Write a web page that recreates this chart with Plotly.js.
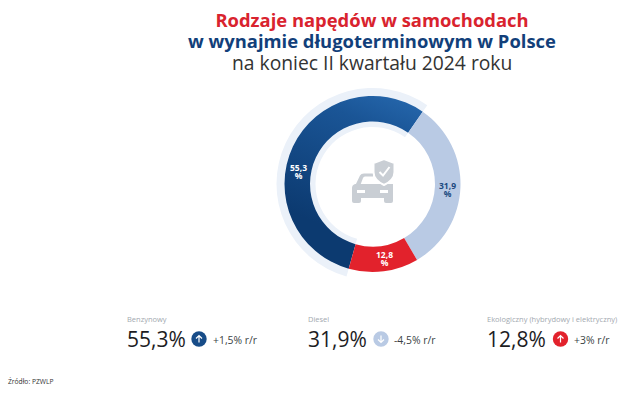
<!DOCTYPE html>
<html>
<head>
<meta charset="utf-8">
<script src="https://cdn.plot.ly/plotly-3.0.1.min.js"></script>
<style>html,body{margin:0;padding:0;background:#fff}#c{width:640px;height:401px}</style>
</head>
<body>
<div id="c"></div>
<script>
const categories = ['Benzynowy', 'Diesel', 'Ekologiczny (hybrydowy i elektryczny)'];
const values = [55.3, 31.9, 12.8];
const changes = ['+1,5% r/r', '-4,5% r/r', '+3% r/r'];
const sliceColors = ['#1a5596', '#b9cae4', '#e2222c'];
const iconColors = ['#174c88', '#b9cae4', '#e2222c'];
const labelColors = ['#ffffff', '#1c4a80', '#ffffff'];
const titleLines = ['Rodzaje napędów w samochodach', 'w wynajmie długoterminowym w Polsce', 'na koniec II kwartału 2024 roku'];
const source = 'Źródło: PZWLP';

const W = 640, H = 401, FONT = '"Open Sans", sans-serif';
const fx = x => x / W, fy = y => 1 - y / H;
const CX = 372.5, CY = 184, R = 88, RO = 96, RI = 57;
const fmt = v => v.toFixed(1).replace('.', ',');

function dom(r) { return { x: [fx(CX - r), fx(CX + r)], y: [fy(CY + r), fy(CY - r)] }; }

function txt(t, x, y, size, color, anchor, bold) {
  return { text: bold ? '<b>' + t + '</b>' : t, x: fx(x), y: fy(y), xref: 'paper', yref: 'paper',
    xanchor: anchor || 'left', yanchor: 'middle', showarrow: false, borderpad: 0,
    font: { family: FONT, size: size, color: color } };
}
function path(pts) {
  return pts.replace(/(-?[\d.]+),(-?[\d.]+)/g, (m, a, b) => fx(+a) + ',' + fy(+b));
}
function shp(d, fill, line, lw) {
  return { type: 'path', xref: 'paper', yref: 'paper', path: path(d), layer: 'above',
    fillcolor: fill || 'rgba(0,0,0,0)', line: { color: line || 'rgba(0,0,0,0)', width: lw || 0 } };
}

const traces = [
  { type: 'pie', values: values, sort: false, direction: 'clockwise', rotation: 195.7,
    hole: RI / RO, domain: dom(RO), textinfo: 'none', hoverinfo: 'skip', showlegend: false,
    marker: { colors: ['#ebf1f9', 'rgba(0,0,0,0)', 'rgba(0,0,0,0)'], line: { width: 0 } } },
  { type: 'pie', labels: categories, values: values, sort: false, direction: 'clockwise', rotation: 195.7,
    hole: 0.71, domain: dom(R), textinfo: 'none', showlegend: false,
    marker: { colors: sliceColors, line: { width: 0 } } }
];

const labelPos = [[298, 173], [447.7, 191.5], [384, 260]];
const colX = [125.5, 306.5, 486];
const iconX = [199, 381, 560.5];
const changeX = [212, 393, 573];

const ann = [
  txt(titleLines[1], 372, 41, 18.4, '#123f7a', 'center', true),
  txt(titleLines[2], 372, 62, 19.3, '#333333', 'center', false),
  txt(source, 7, 381, 6.7, '#333333')
];
const shapes = [];
categories.forEach((c, i) => {
  const [lx, ly] = labelPos[i];
  const a = txt(fmt(values[i]) + '<br>%', lx, ly, 8.5, labelColors[i], 'center', true);
  a.name = 'ringLabel';
  ann.push(a);
  ann.push(txt(c, colX[i], 319, 7.5, '#a3a9b0'));
  ann.push(txt(fmt(values[i]) + '%', colX[i], 339, 21, '#1d1d1f'));
  ann.push(txt(changes[i], changeX[i], 339.5, 10.4, '#3b3f45'));
  const x = iconX[i], y = 339, r = 7.7;
  shapes.push({ type: 'circle', xref: 'paper', yref: 'paper', layer: 'above',
    x0: fx(x - r), x1: fx(x + r), y0: fy(y + r), y1: fy(y - r), fillcolor: iconColors[i], line: { width: 0 } });
  const s = changes[i][0] === '+' ? 1 : -1;
  shapes.push(shp(`M${x},${y + 3.5 * s} L${x},${y - 3.5 * s} M${x - 3},${y - 0.5 * s} L${x},${y - 3.5 * s} L${x + 3},${y - 0.5 * s}`, null, '#ffffff', 1.2));
});

// car and shield in the hole of the ring
const G = '#c9ced4';
shapes.push(shp('M352,188 Q352,185 355,184 L393,184 L393,198 L352,198 Z', G));
shapes.push(shp('M355,186 L360,175.5 Q361,173.5 364,173.5 L373,173.5 L373,176.5 L365,176.5 Q363.5,176.5 363,178 L360,186 Z', G));
shapes.push(shp('M352,197 L361,197 L361,201 Q361,203 359,203 L354,203 Q352,203 352,201 Z', G));
shapes.push(shp('M384,197 L393,197 L393,201 Q393,203 391,203 L386,203 Q384,203 384,201 Z', G));
shapes.push(shp('M357,190 L365,190 L365,193 L357,193 Z', '#ffffff'));
shapes.push(shp('M380,190 L388,190 L388,193 L380,193 Z', '#ffffff'));
shapes.push(shp('M384,159 L394.5,163 L394.5,172 Q394.5,180 384,185 Q373.5,180 373.5,172 L373.5,163 Z', G, '#ffffff', 2));
shapes.push(shp('M379.5,172 L383,175.5 L389.5,167', null, '#ffffff', 2));

const layout = {
  width: W, height: H, margin: { l: 0, r: 0, t: 0, b: 0 },
  paper_bgcolor: '#ffffff', plot_bgcolor: '#ffffff', showlegend: false,
  title: { text: '<b>' + titleLines[0] + '</b>', x: 372 / W, xanchor: 'center', xref: 'paper',
    y: fy(21), yref: 'paper', yanchor: 'middle', font: { family: FONT, size: 18.4, color: '#d9232e' } },
  annotations: ann, shapes: shapes
};

Plotly.newPlot('c', traces, layout, { displayModeBar: false, staticPlot: true }).then(gd => {
  // tighter leading for the two-line ring labels, as in the reference
  gd.querySelectorAll('.annotation-text').forEach(t => {
    const lines = t.querySelectorAll('tspan.line');
    if (lines.length === 2) lines[1].setAttribute('dy', '0.95em');
  });
  // gradient on the largest slice
  const svg = gd.querySelector('svg.main-svg');
  const ns = 'http://www.w3.org/2000/svg';
  const g = document.createElementNS(ns, 'linearGradient');
  g.setAttribute('id', 'blueGrad');
  g.setAttribute('gradientUnits', 'userSpaceOnUse');
  g.setAttribute('x1', 50); g.setAttribute('y1', -72);
  g.setAttribute('x2', -15); g.setAttribute('y2', 88);
  [['0', '#2b70b8'], ['0.35', '#1a5596'], ['1', '#0c3a70']].forEach(([o, c]) => {
    const st = document.createElementNS(ns, 'stop');
    st.setAttribute('offset', o); st.setAttribute('stop-color', c); g.appendChild(st);
  });
  const defs = svg.querySelector('defs') || svg.insertBefore(document.createElementNS(ns, 'defs'), svg.firstChild);
  defs.appendChild(g);
  const layers = gd.querySelectorAll('.pielayer .trace');
  const slice = layers[layers.length - 1].querySelector('.slice path.surface');
  if (slice) slice.style.fill = 'url(#blueGrad)';
});
</script>
</body>
</html>
